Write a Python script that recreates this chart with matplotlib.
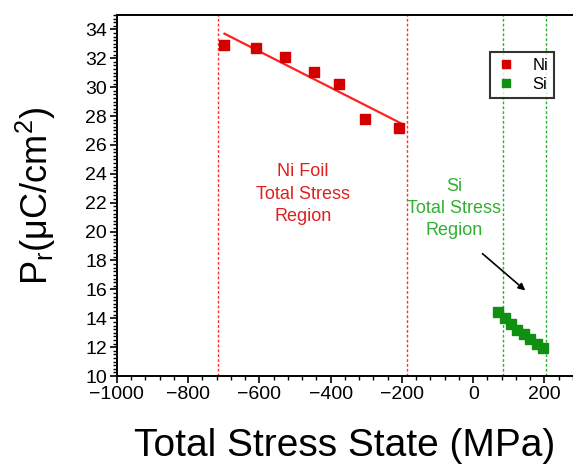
import numpy as np
import matplotlib.pyplot as plt
from matplotlib.ticker import MultipleLocator

plt.rcParams['font.family'] = ['Liberation Sans', 'DejaVu Sans']

# Data
ni_stress = [-700, -610, -528, -447, -378, -305, -207]
ni_pr = [32.9, 32.7, 32.1, 31.05, 30.25, 27.8, 27.2]
fit_stress = [-698, -199]
fit_pr = [33.7, 27.45]
si_stress = [70, 88, 106, 124, 142, 160, 178, 195]
si_pr = [14.4, 14.0, 13.6, 13.2, 12.9, 12.6, 12.25, 11.95]
ni_bounds = [-717, -187]
si_bounds = [83, 204]

fig = plt.figure(figsize=(5.73, 4.66), dpi=100)
ax = fig.add_axes([0.204, 0.193, 0.796, 0.775])

for b in ni_bounds:
    ax.axvline(b, color='#ff3030', lw=1.0, ls=(0, (2, 1.5)))
for b in si_bounds:
    ax.axvline(b, color='#30b030', lw=1.0, ls=(0, (2, 1.5)))

ax.plot(fit_stress, fit_pr, color='#ff2020', lw=1.6)
ax.plot(ni_stress, ni_pr, 's', color='#d40000', ms=7, label='Ni')
ax.plot(si_stress, si_pr, 's', color='#109010', ms=7, label='Si')

ax.text(-478, 22.6, 'Ni Foil\nTotal Stress\nRegion', color='#e02020',
        ha='center', va='center', fontsize=13, linespacing=1.45)
ax.text(-53, 21.6, 'Si\nTotal Stress\nRegion', color='#30b030',
        ha='center', va='center', fontsize=13, linespacing=1.4)
ax.annotate('', xy=(152, 15.8), xytext=(20, 18.6),
            arrowprops=dict(arrowstyle='-|>', color='black', lw=1.2, mutation_scale=10))

ax.set_xlim(-1000, 280)
ax.set_ylim(10, 35)
ax.xaxis.set_major_locator(MultipleLocator(200))
ax.xaxis.set_minor_locator(MultipleLocator(40))
ax.yaxis.set_major_locator(MultipleLocator(2))
ax.yaxis.set_minor_locator(MultipleLocator(0.25))
ax.tick_params(which='major', length=5, width=1.2, labelsize=14, pad=2)
ax.tick_params(which='minor', length=3, width=1.0)
ax.spines['right'].set_visible(False)
for s in ['left', 'bottom', 'top']:
    ax.spines[s].set_linewidth(1.4)

ax.set_xlabel('Total Stress State (MPa)', fontsize=28, labelpad=18)
ax.set_ylabel(r'P$_\mathregular{r}$(μC/cm$^\mathregular{2}$)', fontsize=26, labelpad=20)

leg = ax.legend(loc='upper left', bbox_to_anchor=(0.80, 0.92), fontsize=12,
                frameon=True, fancybox=False, edgecolor='black', handletextpad=1.0,
                borderpad=0.35, handlelength=1.2, labelspacing=0.25, markerscale=0.85)
leg.get_frame().set_linewidth(1.5)

fig.savefig('out.png', dpi=100)
